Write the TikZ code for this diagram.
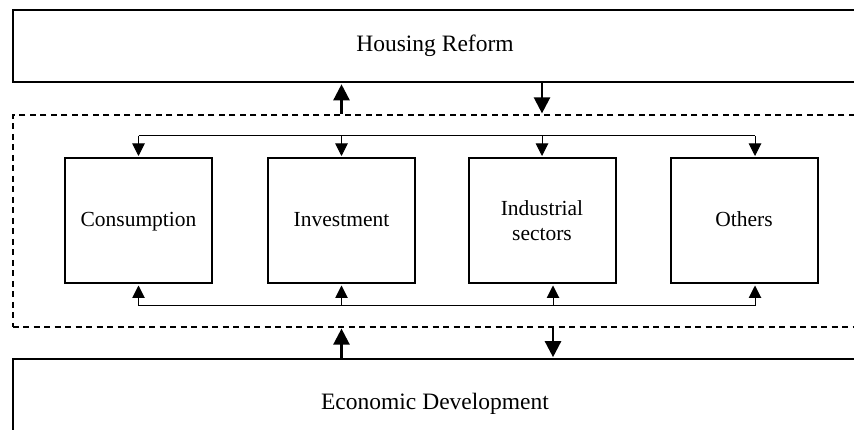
\documentclass[tikz,border=0pt]{standalone}
\usepackage{fontspec}
\setmainfont{Liberation Serif}
\usetikzlibrary{arrows.meta}
\tikzset{
  bigbox/.style={draw, line width=2pt, rectangle, inner sep=0pt,
    font=\fontsize{23.5}{27}\selectfont},
  secbox/.style={draw, line width=2pt, rectangle, inner sep=0pt,
    minimum width=147pt, minimum height=125.5pt,
    font=\fontsize{21.5}{24.5}\selectfont, align=center},
  oneline/.style={text height=15.5pt, text depth=3pt},
  dashbox/.style={draw, line width=1.6pt, dash pattern=on 6pt off 4.5pt,
    rectangle, inner sep=0pt},
  bigarrow/.style={line width=2.4pt, -{Triangle[width=16pt,length=16pt]}, shorten >=0.8pt},
  thinarrow/.style={line width=1pt, -{Triangle[width=12.5pt,length=12.5pt]}, shorten >=1pt},
  busline/.style={line width=1pt}
}
\begin{document}
\begin{tikzpicture}[x=1pt,y=-1pt]
\useasboundingbox (0,0) rectangle (854,430);
\clip (0,0) rectangle (854,430);
% outer boxes
\node[bigbox, minimum width=844pt, minimum height=72.5pt] (hr) at (435,46.25) {Housing Reform};
\node[dashbox, minimum width=845.3pt, minimum height=212pt] (mid) at (435.35,221) {};
\node[bigbox, minimum width=844pt, minimum height=90pt] (ed) at (435,404) {Economic Development};
% sector boxes
\node[secbox, oneline] (con) at (138.5,220.75) {Consumption};
\node[secbox, oneline] (inv) at (341.5,220.75) {Investment};
\node[secbox] (ind) at (542,220.75) {Industrial\\sectors};
\node[secbox, oneline] (oth) at (744,220.75) {Others};
% bus coordinates
\coordinate (tbus) at (0,136);
\coordinate (bbus) at (0,306);
\coordinate (othT) at ([xshift=11pt]oth.north);
\coordinate (othB) at ([xshift=11pt]oth.south);
\coordinate (indB) at ([xshift=11pt]ind.south);
% top bus
\draw[busline] (con.north |- tbus) -- (othT |- tbus);
\draw[thinarrow] (con.north |- tbus) -- (con.north);
\draw[thinarrow] (inv.north |- tbus) -- (inv.north);
\draw[thinarrow] (ind.north |- tbus) -- (ind.north);
\draw[thinarrow] (othT |- tbus) -- (othT);
% bottom bus
\draw[busline] (con.south |- bbus) -- (othB |- bbus);
\draw[thinarrow] (con.south |- bbus) -- (con.south);
\draw[thinarrow] (inv.south |- bbus) -- (inv.south);
\draw[thinarrow] (indB |- bbus) -- (indB);
\draw[thinarrow] (othB |- bbus) -- (othB);
% thick arrows
\draw[bigarrow] (mid.north -| inv.north) -- (hr.south -| inv.north);
\draw[bigarrow] (hr.south -| ind.north) -- (mid.north -| ind.north);
\draw[bigarrow] (ed.north -| inv.south) -- (mid.south -| inv.south);
\draw[bigarrow] (mid.south -| indB) -- (ed.north -| indB);
\end{tikzpicture}
\end{document}
